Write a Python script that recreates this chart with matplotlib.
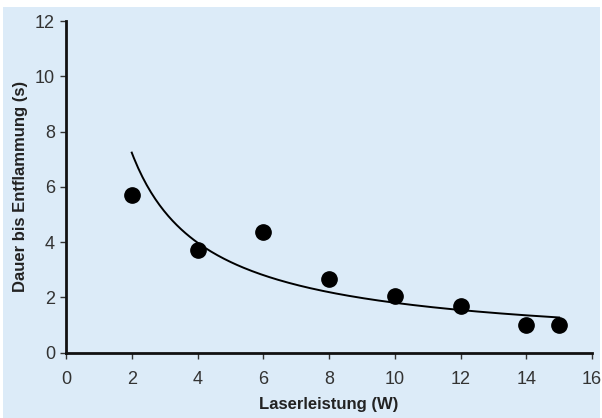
import numpy as np
import matplotlib
matplotlib.use("Agg")
import matplotlib.pyplot as plt
from matplotlib import font_manager
from matplotlib.patches import Rectangle

# Data
leistung = [2, 4, 6, 8, 10, 12, 14, 15]
dauer = [5.7, 3.7, 4.35, 2.68, 2.05, 1.69, 1.0, 1.0]
x_ticks = [0, 2, 4, 6, 8, 10, 12, 14, 16]
y_ticks = [0, 2, 4, 6, 8, 10, 12]
x_label = "Laserleistung (W)"
y_label = "Dauer bis Entflammung (s)"

plt.rcParams['font.family'] = ["Liberation Sans", "DejaVu Sans"]

bg = "#dcebf8"
fig = plt.figure(figsize=(6.02, 4.18), dpi=100, facecolor="white")
fig.patches.append(Rectangle((3/602, 0), 597/602, 411/418, transform=fig.transFigure,
                             facecolor=bg, edgecolor="none", zorder=-10))
ax = fig.add_axes([66/602, 1-352.7/418, 526/602, 331.7/418])
ax.set_facecolor(bg)

# power trendline fitted to data (as spreadsheet trendline)
b, lna = np.polyfit(np.log(leistung), np.log(dauer), 1)
xs = np.linspace(min(leistung), max(leistung), 200)
ax.plot(xs, np.exp(lna) * xs**b, color="black", lw=1.4, zorder=2)
ax.plot(leistung, dauer, "o", color="black", markersize=11, zorder=3, clip_on=False)

ax.set_xlim(0, 16)
ax.set_ylim(0, 12)
ax.set_xticks(x_ticks)
ax.set_yticks(y_ticks)
ax.tick_params(axis="both", direction="out", length=4, width=1, color="#333333",
               labelsize=13, labelcolor="#333333")
ax.tick_params(axis="x", pad=9)
ax.tick_params(axis="y", pad=4)
for s in ["top", "right"]:
    ax.spines[s].set_visible(False)
for s in ["left", "bottom"]:
    ax.spines[s].set_linewidth(2)
    ax.spines[s].set_color("#111111")

ax.set_xlabel(x_label, fontsize=12, fontweight="bold", color="#222222", labelpad=7)
ax.set_ylabel(y_label, fontsize=12, fontweight="bold", color="#222222", labelpad=5)

fig.savefig("out.png", dpi=100, facecolor="white")
